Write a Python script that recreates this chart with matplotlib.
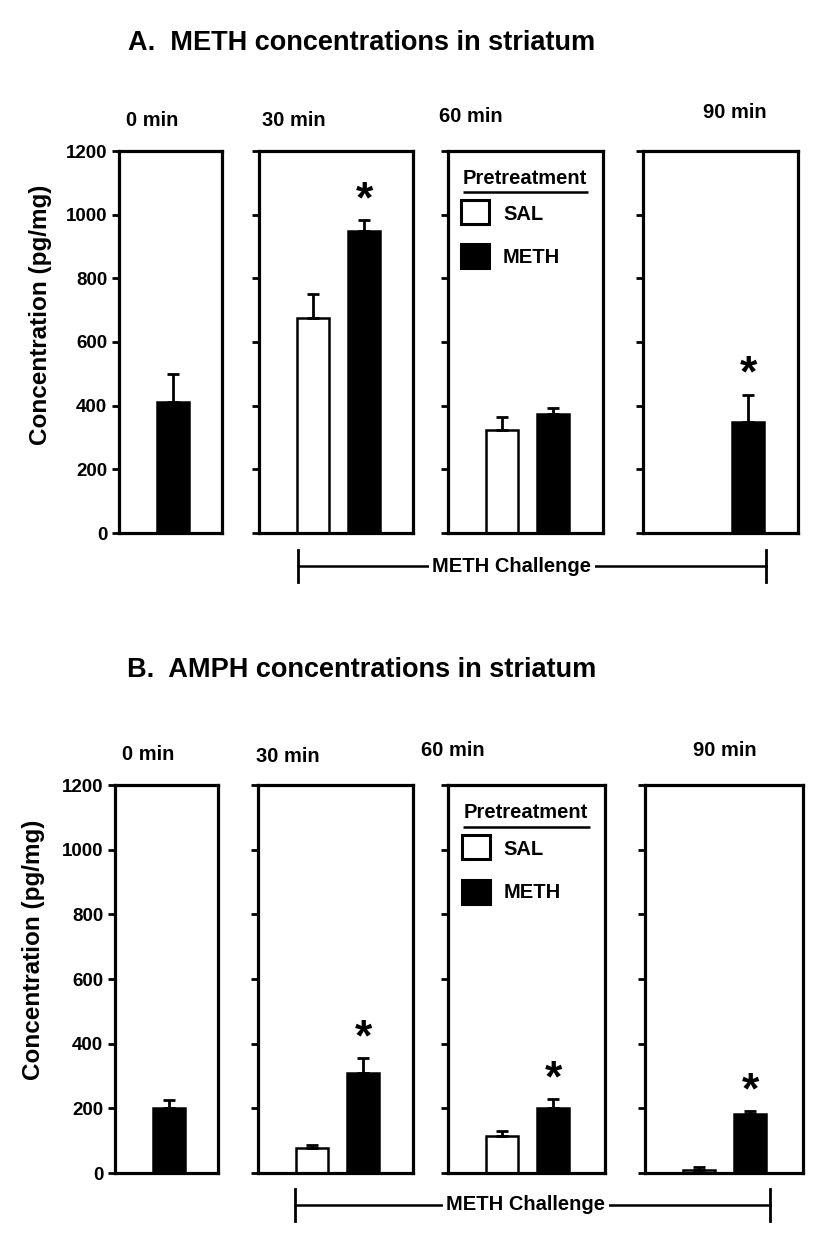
import numpy as np
import matplotlib
matplotlib.use("Agg")
import matplotlib.pyplot as plt
from matplotlib.patches import Rectangle

plt.rcParams['font.family'] = ['Liberation Sans', 'DejaVu Sans']
plt.rcParams['font.weight'] = 'bold'

# ---------------- data ----------------
times = ["0 min", "30 min", "60 min", "90 min"]
yticks = [0, 200, 400, 600, 800, 1000, 1200]

# Panel A: METH concentrations (pg/mg)
A_sal = [np.nan, 675, 325, np.nan]
A_sal_sem = [np.nan, 77, 40, np.nan]
A_meth = [410, 950, 375, 350]
A_meth_sem = [90, 32, 18, 85]
A_sig = [False, True, False, True]

# Panel B: AMPH concentrations (pg/mg)
B_sal = [np.nan, 77, 115, 10]
B_sal_sem = [np.nan, 10, 16, 8]
B_meth = [200, 310, 200, 182]
B_meth_sem = [26, 46, 28, 10]
B_sig = [False, True, True, True]

W, H = 834, 1254
fig = plt.figure(figsize=(W / 100, H / 100), dpi=100)


def fx(x):
    return x / W


def fy(y):
    return 1 - y / H


def add_ax(l, r, t, b):
    return fig.add_axes([fx(l), fy(b), (r - l) / W, (b - t) / H])


UNIT = 51.5  # px between bar centres


def draw_panel(boxes, sal, sal_sem, meth, meth_sem, sig, title, title_y,
               col_xy, ylab_xy, bracket):
    for i, (l, r, t, b) in enumerate(boxes):
        ax = add_ax(l, r, t, b)
        left = -0.04 if i == 0 else -1.04
        ax.set_xlim(left, left + (r - l) / UNIT)
        ax.set_ylim(0, 1200)
        for s in ax.spines.values():
            s.set_linewidth(2.3)
        ax.set_xticks([])
        ax.set_yticks(yticks)
        ax.tick_params(axis='y', direction='out', length=5, width=2,
                       pad=3.5, labelsize=13.5)
        if i != 0:
            ax.set_yticklabels([])
        else:
            for lab in ax.get_yticklabels():
                lab.set_fontweight('bold')
        if not np.isnan(sal[i]):
            ax.bar([0], [sal[i]], width=0.62, color='white', edgecolor='black',
                   linewidth=1.8, zorder=2)
            ax.errorbar([0], [sal[i]], yerr=[[0], [sal_sem[i]]], fmt='none',
                        ecolor='black', elinewidth=2, capsize=4.5, capthick=2,
                        zorder=3)
        if not np.isnan(meth[i]):
            ax.bar([1], [meth[i]], width=0.62, color='black', edgecolor='black',
                   linewidth=1.8, zorder=2)
            ax.errorbar([1], [meth[i]], yerr=[[0], [meth_sem[i]]], fmt='none',
                        ecolor='black', elinewidth=2, capsize=4.5, capthick=2,
                        zorder=3)
            if sig[i]:
                ax.annotate('*', xy=(1, meth[i] + meth_sem[i]),
                            xytext=(0, 14), textcoords='offset points',
                            ha='center', va='center', fontsize=32,
                            fontweight='bold')
        # column label
        cx, cy = col_xy[i]
        fig.text(fx(cx), fy(cy), times[i], ha='center', va='center',
                 fontsize=14.5, fontweight='bold')
        if i == 2:
            # manual legend
            ax.text(0.097, 0.929, 'Pretreatment', transform=ax.transAxes,
                    ha='left', va='center', fontsize=14.5, fontweight='bold')
            ax.plot([0.097, 0.905], [0.893, 0.893], transform=ax.transAxes,
                    color='black', lw=1.8, solid_capstyle='butt')
            ax.add_patch(Rectangle((0.087, 0.808), 0.18, 0.064,
                                   transform=ax.transAxes, facecolor='white',
                                   edgecolor='black', lw=2.2))
            ax.add_patch(Rectangle((0.087, 0.694), 0.18, 0.062,
                                   transform=ax.transAxes, facecolor='black',
                                   edgecolor='black', lw=2.2))
            ax.text(0.355, 0.835, 'SAL', transform=ax.transAxes, ha='left',
                    va='center', fontsize=14.5, fontweight='bold')
            ax.text(0.355, 0.722, 'METH', transform=ax.transAxes, ha='left',
                    va='center', fontsize=14.5, fontweight='bold')

    fig.text(fx(362), fy(title_y), title, ha='center', va='center',
             fontsize=19.5, fontweight='bold')
    fig.text(fx(ylab_xy[0]), fy(ylab_xy[1]), 'Concentration (pg/mg)',
             rotation=90, ha='center', va='center', fontsize=17.5,
             fontweight='bold')
    # METH challenge bracket
    x0, x1, yb, tx = bracket
    ov.plot([x0, x1], [yb, yb], color='black', lw=1.8)
    ov.plot([x0, x0], [yb - 16, yb + 16], color='black', lw=2.0)
    ov.plot([x1, x1], [yb - 16, yb + 16], color='black', lw=2.0)
    ov.text(tx, yb, 'METH Challenge', ha='center', va='center',
            fontsize=14.5, fontweight='bold',
            bbox=dict(facecolor='white', edgecolor='none', pad=2.5))


ov = fig.add_axes([0, 0, 1, 1])
ov.set_xlim(0, W)
ov.set_ylim(H, 0)
ov.axis('off')
ov.set_zorder(5)
ov.patch.set_alpha(0)

boxes_A = [(119, 222, 151, 533), (259, 413, 151, 533),
           (448, 603, 151, 533), (643, 798, 151, 533)]
boxes_B = [(115, 218, 785, 1173), (258, 413, 785, 1173),
           (448, 605, 785, 1173), (645, 803, 785, 1173)]

draw_panel(boxes_A, A_sal, A_sal_sem, A_meth, A_meth_sem, A_sig,
           'A.  METH concentrations in striatum', 43,
           [(152, 120), (294, 120), (471, 117), (735, 113)], (41, 315),
           (298, 766, 566, 512))
draw_panel(boxes_B, B_sal, B_sal_sem, B_meth, B_meth_sem, B_sig,
           'B.  AMPH concentrations in striatum', 670,
           [(148, 755), (288, 757), (453, 750), (725, 750)], (34, 950),
           (295, 770, 1205, 526))

fig.savefig('out.png', dpi=100)
